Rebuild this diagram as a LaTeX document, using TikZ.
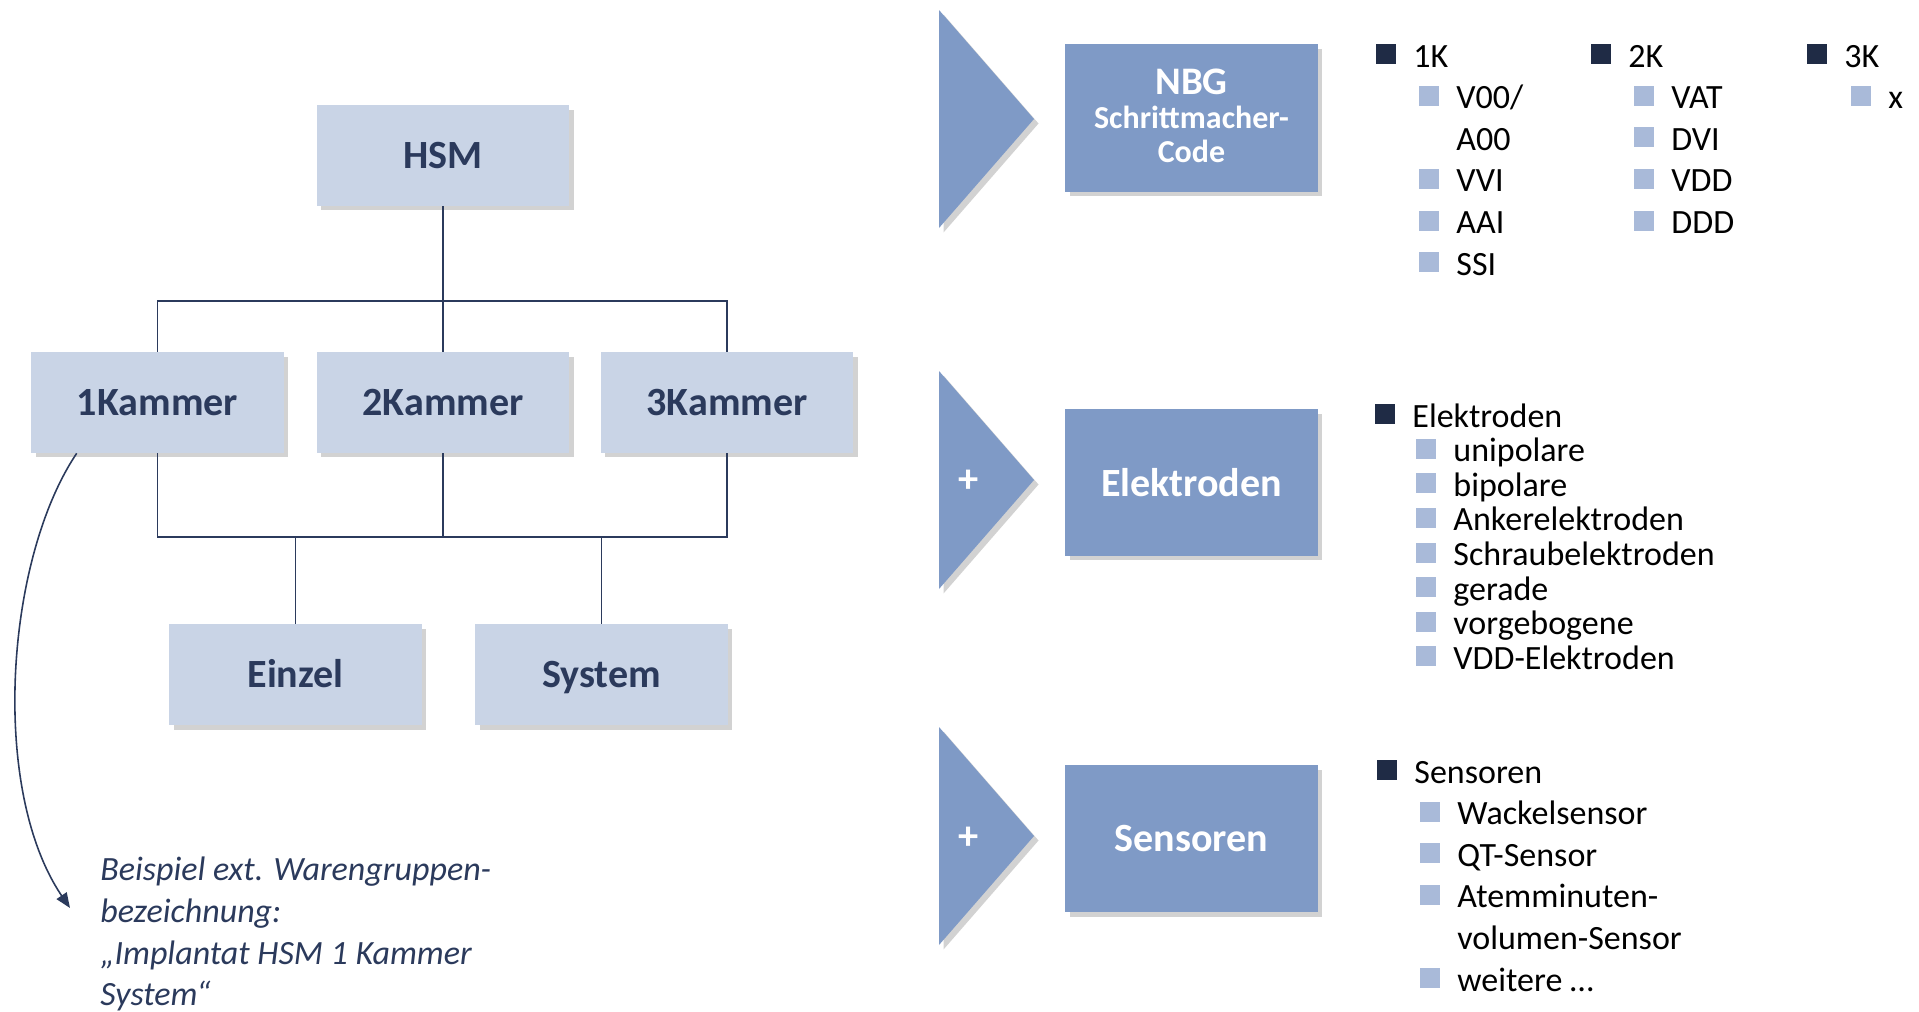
\documentclass[tikz,border=0pt]{standalone}
\usepackage{fontspec}
\setmainfont{Carlito}
\usetikzlibrary{positioning,calc,arrows.meta,shadows}
\definecolor{navy}{HTML}{2B3A5C}
\definecolor{pale}{HTML}{C9D4E6}
\definecolor{steel}{HTML}{7F9AC6}
\definecolor{dkbul}{HTML}{1F2B45}
\definecolor{ltbul}{HTML}{A9BAD9}
\tikzset{
  lnk/.style   = {draw=navy, line width=1.1pt},
  arr/.style   = {draw=navy, line width=0.9pt, -{Triangle[length=0.3cm,width=0.24cm]}},
  shd/.style   = {drop shadow={shadow xshift=0.09cm, shadow yshift=-0.09cm,
                    opacity=0.25, fill=black!70}},
  kbox/.style  = {fill=pale, shd, minimum width=5.06cm, minimum height=2.02cm,
                  inner sep=0pt, text=navy, text height=18.2pt, text depth=3.6pt,
                  font=\bfseries\fontsize{22.8}{27}\selectfont},
  cbox/.style  = {fill=steel, shd, minimum width=5.06cm, minimum height=2.94cm,
                  inner sep=0pt, text=white, align=center,
                  font=\bfseries\fontsize{22.8}{27}\selectfont},
  chev/.style  = {fill=steel, shd},
  plus/.style  = {text=white, inner sep=0pt, font=\bfseries\fontsize{23}{23}\selectfont},
  itm/.style   = {anchor=base west, inner sep=0pt, font=\fontsize{19.35}{23.7}\selectfont},
  note/.style  = {anchor=north west, inner sep=0pt, align=left, text=navy,
                  font=\itshape\fontsize{19.35}{23.67}\selectfont},
}
\newcommand{\darksq}{{\color{dkbul}\rule[0.09em]{0.59em}{0.59em}}\hspace{0.5em}}
\newcommand{\lightsq}{{\color{ltbul}\rule[0.08em]{0.59em}{0.59em}}\hspace{0.5em}}

\begin{document}
\begin{tikzpicture}[x=0.02cm, y=-0.02cm]
  \useasboundingbox (0,0) rectangle (1919,1011);
  % tree
  \node[kbox] (hsm) at (443,155.5) {HSM};
  \node[kbox] (k1) at (157.5,402.5) {1Kammer};
  \node[kbox] (k2) at (443,402.5) {2Kammer};
  \node[kbox] (k3) at (727,402.5) {3Kammer};
  \node[kbox] (einzel) at (295.5,674.5) {Einzel};
  \node[kbox] (system) at (601.5,674.5) {System};
  \coordinate (tbus) at (0,301);
  \coordinate (bbus) at (0,537);
  \draw[lnk] (hsm) -- (k2);
  \draw[lnk] (k1.north) -- (k1.north |- tbus) -- (k3.north |- tbus) -- (k3.north);
  \draw[lnk] (k1.south) -- (k1.south |- bbus) -- (k3.south |- bbus) -- (k3.south);
  \draw[lnk] (k2.south) -- (k2.south |- bbus);
  \draw[lnk] (einzel.north) -- (einzel.north |- bbus);
  \draw[lnk] (system.north) -- (system.north |- bbus);
  % example note
  \node[note] (note) at (100,857) {Beispiel ext. Warengruppen-\\bezeichnung:\\„Implantat HSM 1 Kammer\\System“};
  \coordinate (tip) at (70,908);
  \draw[arr] ($(k1.south west)+(46,0)$) .. controls (5,560) and (-10,790) .. (tip);
  % chevrons and boxes
  \fill[chev] (939,10) -- (1034,119) -- (939,228) -- cycle;
  \fill[chev] (939,371) -- (1034,480) -- (939,589) -- cycle;
  \fill[chev] (939,727) -- (1034,836) -- (939,945) -- cycle;
  \node[plus] (p2) at (969,481) {+};
  \node[plus] (p3) at (969,838) {+};
  \node[cbox, minimum height=2.96cm, font=\bfseries\fontsize{18.2}{19.4}\selectfont] (nbg) at (1191.5,118) {};
  \node[text=white, align=center, inner sep=0pt, font=\bfseries\fontsize{18.2}{19.4}\selectfont] (nbgtxt) at (1191.5,115.5)
    {{\fontsize{22.2}{26}\selectfont NBG}\\[0pt]Schrittmacher-\\Code};
  \node[cbox] (elek) at (1191.5,482.5) {Elektroden};
  \node[cbox] (sens) at (1191.5,838.5) {Sensoren};
  % NBG list
  \node[itm] (l1k) at (1376,67) {\darksq 1K};
  \node[itm] (lv00) at (1419,108.6) {\lightsq V00/};
  \node[itm] (la00) at (1456,150.2) {A00};
  \node[itm] (lvvi) at (1419,191.8) {\lightsq VVI};
  \node[itm] (laai) at (1419,233.4) {\lightsq AAI};
  \node[itm] (lssi) at (1419,275) {\lightsq SSI};
  \node[itm] (l2k) at (1591,67) {\darksq 2K};
  \node[itm] (lvat) at (1634,108.6) {\lightsq VAT};
  \node[itm] (ldvi) at (1634,150.2) {\lightsq DVI};
  \node[itm] (lvdd) at (1634,191.8) {\lightsq VDD};
  \node[itm] (lddd) at (1634,233.4) {\lightsq DDD};
  \node[itm] (l3k) at (1807,67) {\darksq 3K};
  \node[itm] (lx) at (1851,108.6) {\lightsq x};
  % Elektroden list
  \node[itm] (e0) at (1375,427) {\darksq Elektroden};
  \node[itm] (e1) at (1416,461.6) {\lightsq unipolare};
  \node[itm] (e2) at (1416,496.2) {\lightsq bipolare};
  \node[itm] (e3) at (1416,530.8) {\lightsq Ankerelektroden};
  \node[itm] (e4) at (1416,565.4) {\lightsq Schraubelektroden};
  \node[itm] (e5) at (1416,600) {\lightsq gerade};
  \node[itm] (e6) at (1416,634.6) {\lightsq vorgebogene};
  \node[itm] (e7) at (1416,669.2) {\lightsq VDD-Elektroden};
  % Sensoren list
  \node[itm] (s0) at (1377,783) {\darksq Sensoren};
  \node[itm] (s1) at (1420,824.6) {\lightsq Wackelsensor};
  \node[itm] (s2) at (1420,866.2) {\lightsq QT-Sensor};
  \node[itm] (s3) at (1420,907.8) {\lightsq Atemminuten-};
  \node[itm] (s3b) at (1457,949.4) {volumen-Sensor};
  \node[itm] (s4) at (1420,991) {\lightsq weitere …};
\end{tikzpicture}
\end{document}
